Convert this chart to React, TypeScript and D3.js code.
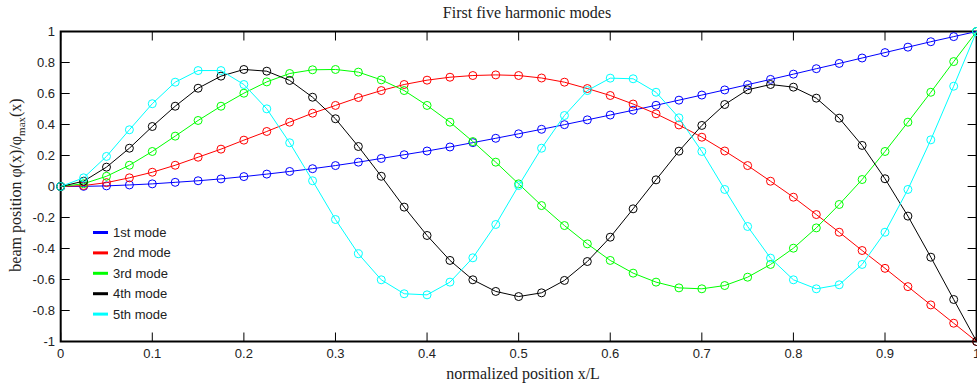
import { useRef, useEffect } from 'react';
import * as d3 from 'd3';

const W = 977;
const H = 385;

const xPos = [
  0, 0.025, 0.05, 0.075, 0.1, 0.125, 0.15, 0.175, 0.2, 0.225, 0.25, 0.275, 0.3, 0.325,
  0.35, 0.375, 0.4, 0.425, 0.45, 0.475, 0.5, 0.525, 0.55, 0.575, 0.6, 0.625, 0.65, 0.675,
  0.7, 0.725, 0.75, 0.775, 0.8, 0.825, 0.85, 0.875, 0.9, 0.925, 0.95, 0.975, 1,
];

const mode1 = [
  0, 0.001, 0.004, 0.010, 0.017, 0.027, 0.037, 0.049, 0.064, 0.080, 0.097, 0.115, 0.135, 0.157,
  0.181, 0.205, 0.229, 0.255, 0.283, 0.311, 0.340, 0.369, 0.399, 0.430, 0.461, 0.492, 0.524, 0.557,
  0.590, 0.623, 0.657, 0.691, 0.725, 0.760, 0.794, 0.829, 0.864, 0.899, 0.934, 0.967, 1,
];
const mode2 = [
  0, 0.006, 0.025, 0.056, 0.092, 0.137, 0.189, 0.241, 0.299, 0.355, 0.415, 0.473, 0.523, 0.574,
  0.619, 0.658, 0.686, 0.705, 0.716, 0.720, 0.716, 0.700, 0.673, 0.632, 0.587, 0.532, 0.469, 0.397,
  0.318, 0.229, 0.135, 0.034, -0.069, -0.181, -0.295, -0.413, -0.528, -0.646, -0.764, -0.882, -1,
];
const mode3 = [
  0, 0.018, 0.066, 0.137, 0.226, 0.325, 0.426, 0.518, 0.602, 0.675, 0.729, 0.753, 0.755, 0.738,
  0.688, 0.619, 0.523, 0.415, 0.290, 0.157, 0.017, -0.123, -0.252, -0.370, -0.477, -0.559, -0.617, -0.654,
  -0.660, -0.639, -0.585, -0.503, -0.398, -0.267, -0.116, 0.045, 0.226, 0.415, 0.608, 0.806, 1,
];
const mode4 = [
  0, 0.034, 0.125, 0.247, 0.387, 0.518, 0.634, 0.712, 0.755, 0.744, 0.684, 0.576, 0.437, 0.258,
  0.066, -0.133, -0.316, -0.477, -0.602, -0.677, -0.710, -0.686, -0.606, -0.484, -0.327, -0.144, 0.043, 0.228,
  0.394, 0.529, 0.624, 0.658, 0.641, 0.570, 0.441, 0.265, 0.050, -0.191, -0.456, -0.729, -1,
];
const mode5 = [
  0, 0.056, 0.194, 0.366, 0.534, 0.673, 0.748, 0.748, 0.658, 0.501, 0.282, 0.037, -0.213, -0.434,
  -0.602, -0.692, -0.699, -0.617, -0.460, -0.245, 0.006, 0.247, 0.458, 0.619, 0.699, 0.695, 0.608, 0.443,
  0.226, -0.019, -0.258, -0.462, -0.602, -0.660, -0.634, -0.503, -0.295, -0.019, 0.301, 0.647, 1,
];

const seriesNames = ['1st mode', '2nd mode', '3rd mode', '4th mode', '5th mode'];
const seriesColors = ['#0000ff', '#ff0000', '#00ff00', '#000000', '#00ffff'];
const seriesValues = [mode1, mode2, mode3, mode4, mode5];

const xTicks = [0, 0.1, 0.2, 0.3, 0.4, 0.5, 0.6, 0.7, 0.8, 0.9, 1];
const yTicks = [-1, -0.8, -0.6, -0.4, -0.2, 0, 0.2, 0.4, 0.6, 0.8, 1];

export default function App() {
  const ref = useRef<SVGSVGElement | null>(null);

  useEffect(() => {
    document.body.style.margin = '0';
    const svg = d3.select(ref.current);
    svg.selectAll('*').remove();

    const x = d3.scaleLinear().domain([0, 1]).range([60.7, 976.6]);
    const y = d3.scaleLinear().domain([-1, 1]).range([341.5, 31.5]);
    const sans = '"Liberation Sans", Arial, sans-serif';
    const serif = '"Liberation Serif", "Times New Roman", serif';
    const tickLen = 9;

    // gnuplot-style labels: plain hyphen, no trailing zeros
    const fmt = (v: number) => String(+v.toFixed(1));
    const ticks = svg.append('g').attr('stroke', '#000').attr('stroke-width', 1);
    xTicks.forEach(t => {
      ticks.append('line').attr('x1', x(t)).attr('x2', x(t)).attr('y1', y(-1)).attr('y2', y(-1) - tickLen);
      ticks.append('line').attr('x1', x(t)).attr('x2', x(t)).attr('y1', y(1)).attr('y2', y(1) + tickLen);
    });
    yTicks.forEach(t => {
      ticks.append('line').attr('x1', x(0)).attr('x2', x(0) + tickLen).attr('y1', y(t)).attr('y2', y(t));
      ticks.append('line').attr('x1', x(1)).attr('x2', x(1) - tickLen).attr('y1', y(t)).attr('y2', y(t));
    });

    svg.append('g').selectAll('text').data(xTicks).enter().append('text')
      .attr('x', d => x(d)).attr('y', 357.5)
      .attr('text-anchor', 'middle')
      .style('font-family', sans).style('font-size', '13px').attr('fill', '#222')
      .text(d => fmt(d));

    svg.append('g').selectAll('text').data(yTicks).enter().append('text')
      .attr('x', 55).attr('y', d => y(d) + 4.5)
      .attr('text-anchor', 'end')
      .style('font-family', sans).style('font-size', '13px').attr('fill', '#222')
      .text(d => fmt(d));

    // frame
    svg.append('rect')
      .attr('x', x(0)).attr('y', y(1))
      .attr('width', x(1) - x(0)).attr('height', y(-1) - y(1))
      .attr('fill', 'none').attr('stroke', '#000').attr('stroke-width', 2);

    // series
    const line = d3.line<number>().x((_, i) => x(xPos[i])).y(d => y(d));
    seriesValues.forEach((vals, k) => {
      const g = svg.append('g');
      g.append('path').attr('d', line(vals)).attr('fill', 'none')
        .attr('stroke', seriesColors[k]).attr('stroke-width', 1);
      g.selectAll('circle').data(vals).enter().append('circle')
        .attr('cx', (_, i) => x(xPos[i])).attr('cy', d => y(d)).attr('r', 4)
        .attr('fill', 'none').attr('stroke', seriesColors[k]).attr('stroke-width', 1);
    });

    // legend
    const lg = svg.append('g');
    seriesNames.forEach((name, k) => {
      const ly = 232.5 + k * 20.4;
      lg.append('line').attr('x1', 93).attr('x2', 108).attr('y1', ly).attr('y2', ly)
        .attr('stroke', seriesColors[k]).attr('stroke-width', 3);
      lg.append('text').attr('x', 113).attr('y', ly + 4.5)
        .style('font-family', sans).style('font-size', '13px').attr('fill', '#222')
        .text(name);
    });

    // title and axis labels
    svg.append('text').attr('x', 527).attr('y', 18).attr('text-anchor', 'middle')
      .style('font-family', serif).style('font-size', '16px').attr('fill', '#222')
      .text('First five harmonic modes');

    svg.append('text').attr('x', 523).attr('y', 379).attr('text-anchor', 'middle')
      .style('font-family', serif).style('font-size', '16px').attr('fill', '#222')
      .text('normalized position x/L');

    const yl = svg.append('text')
      .attr('transform', 'translate(20.5,185) rotate(-90)')
      .attr('text-anchor', 'middle')
      .style('font-family', serif).style('font-size', '16px').attr('fill', '#222');
    yl.append('tspan').text('beam position φ(x)/φ');
    yl.append('tspan').attr('dy', 4).style('font-size', '11px').text('max');
    yl.append('tspan').attr('dy', -4).text('(x)');
  }, []);

  return <svg ref={ref} width={W} height={H} style={{ display: 'block', background: '#fff' }} />;
}
